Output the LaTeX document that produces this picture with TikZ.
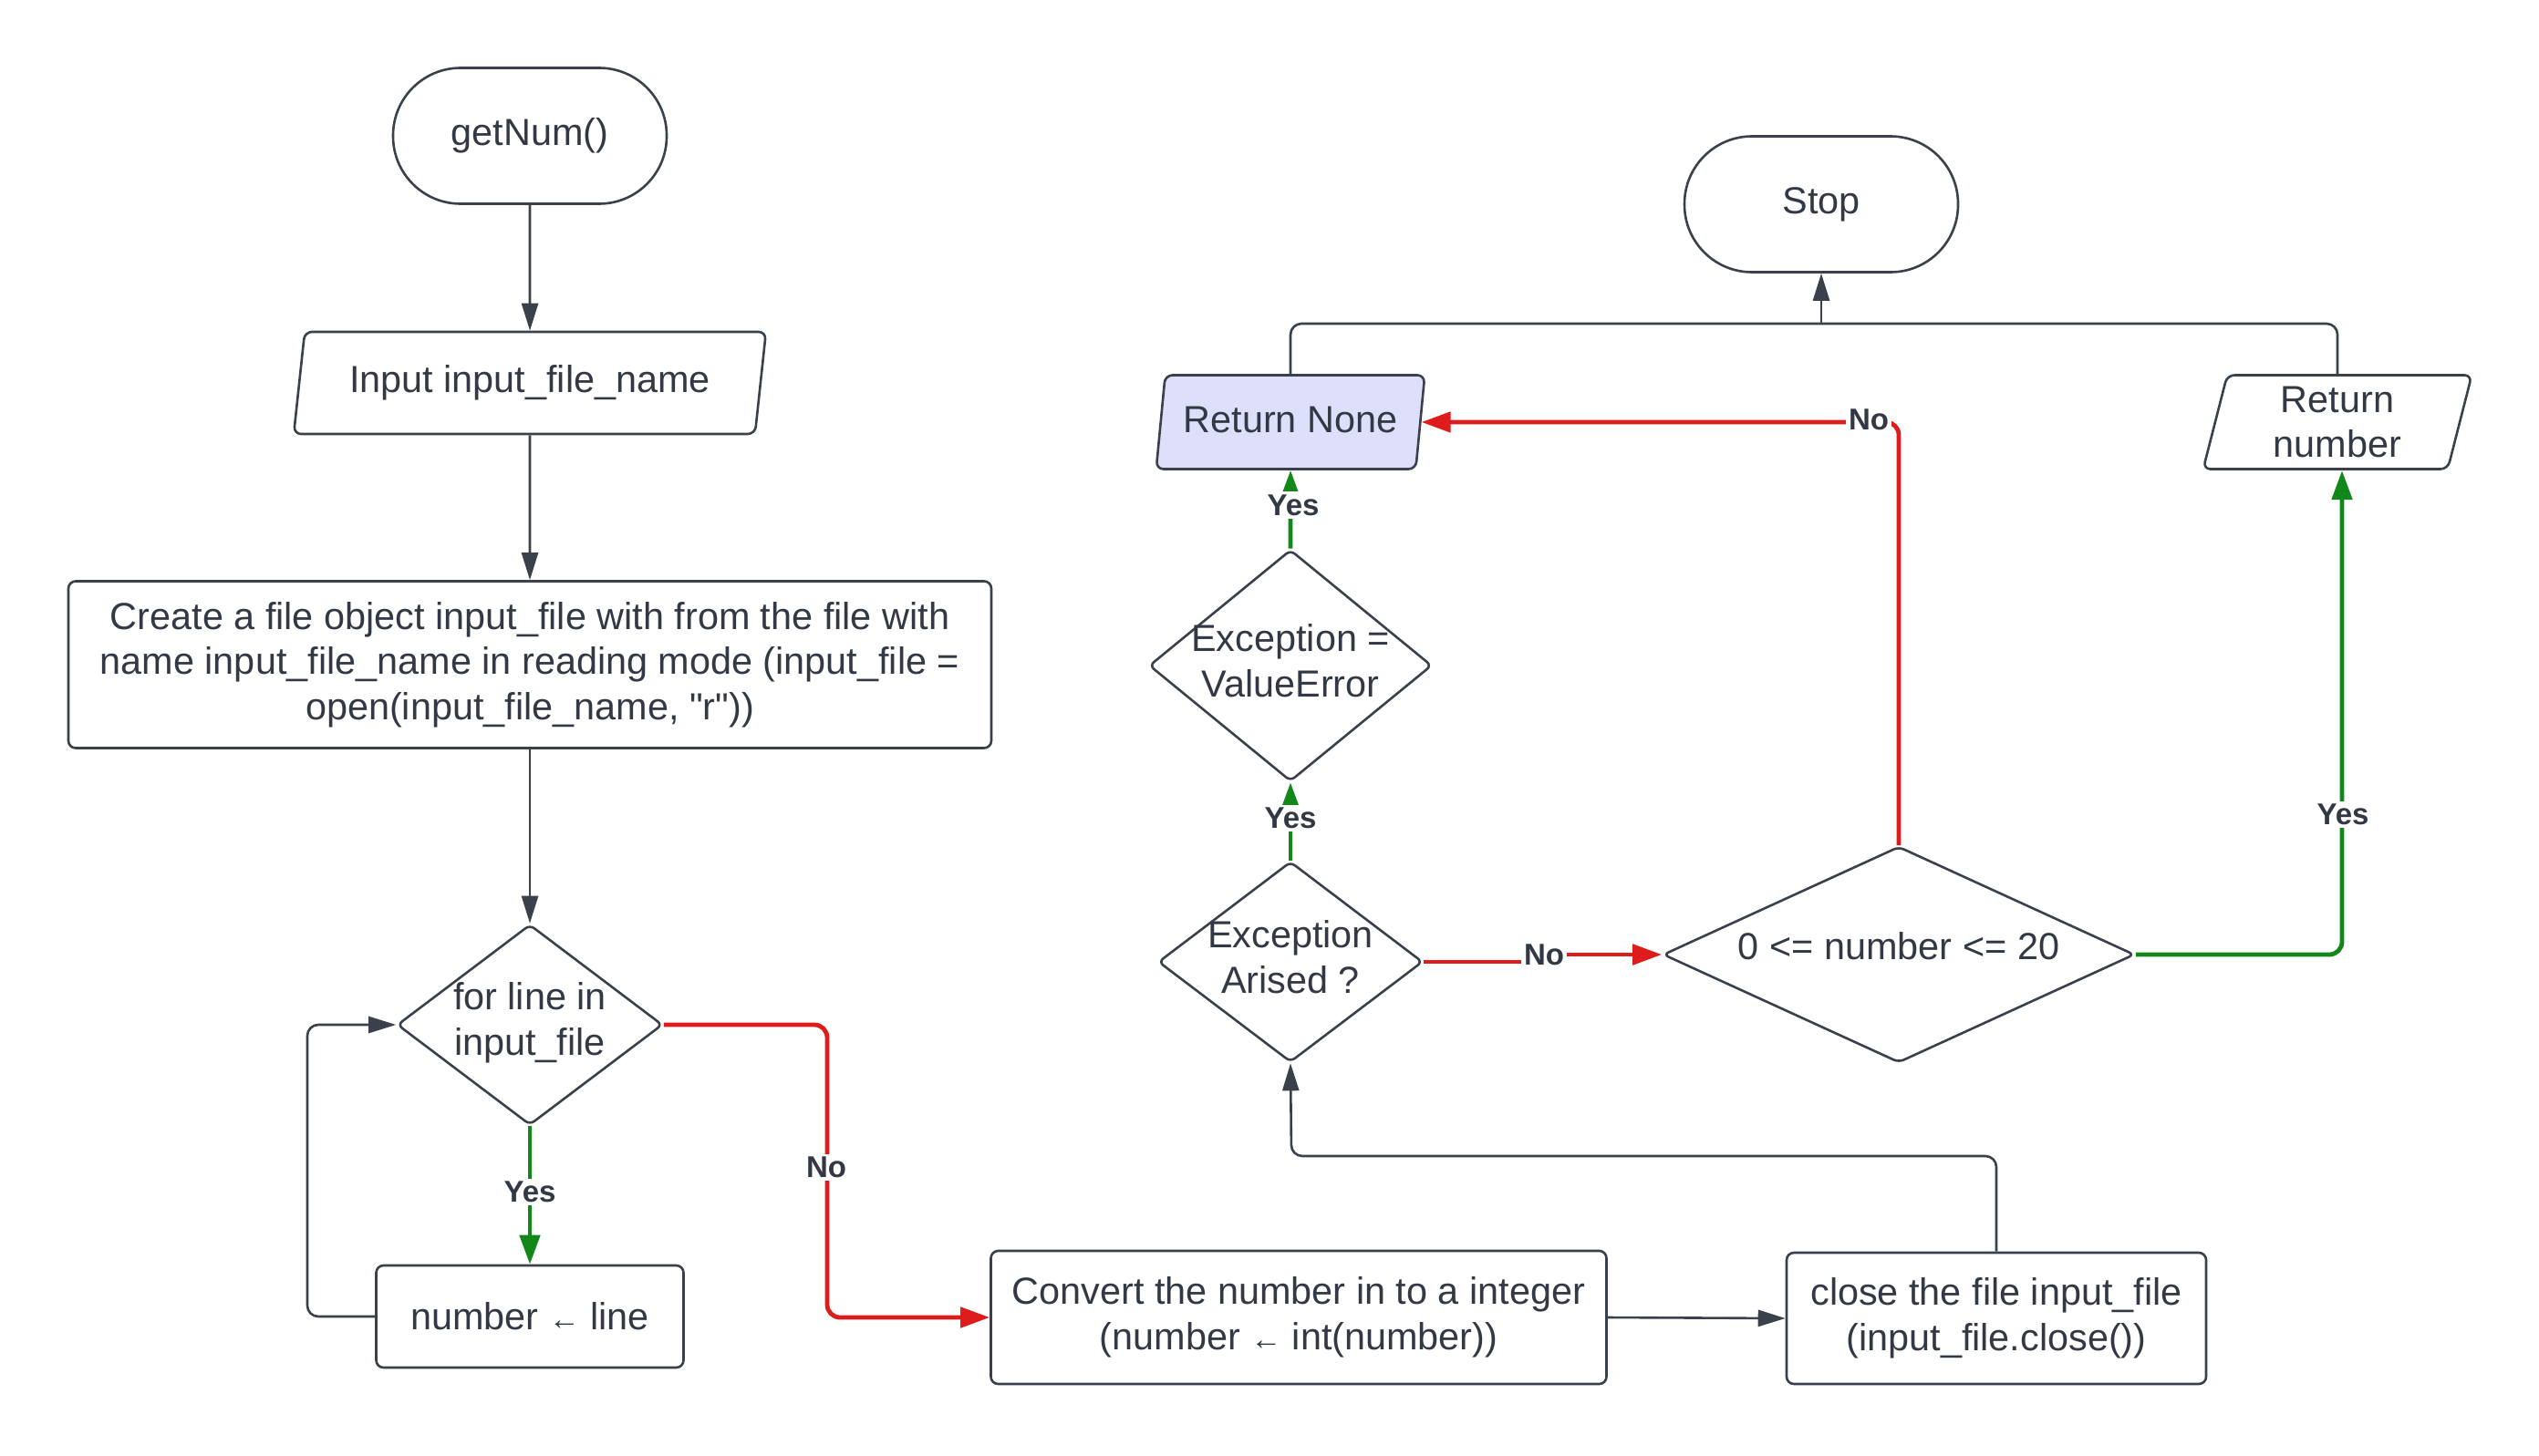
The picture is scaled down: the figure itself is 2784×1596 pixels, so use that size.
\documentclass[tikz,border=0pt]{standalone}
\usepackage{fontspec}
\setmainfont{Liberation Sans}[Ligatures=TeXOff]
\usetikzlibrary{shapes.geometric,arrows.meta}
\definecolor{linec}{RGB}{58,65,74}
\definecolor{textc}{RGB}{51,57,68}
\definecolor{redc}{RGB}{222,28,28}
\definecolor{greenc}{RGB}{18,136,26}
\definecolor{lav}{RGB}{222,223,250}
\tikzset{
  txt/.style={font=\fontsize{20.7pt}{24.85pt}\selectfont, text=textc},
  box/.style={draw=linec, line width=1.3pt, rectangle, rounded corners=4pt, txt, align=center, inner sep=0pt},
  term/.style={draw=linec, line width=1.3pt, rectangle, rounded corners=37pt, txt, align=center, minimum width=150pt, minimum height=74.5pt},
  para/.style={draw=linec, line width=1.3pt, trapezium, trapezium left angle=76, trapezium right angle=104, trapezium stretches=true, rounded corners=4pt, txt, align=center, inner sep=0pt},
  dia/.style={draw=linec, line width=1.3pt, diamond, inner sep=0pt, rounded corners=3pt},
  blk/.style={draw=linec, line width=1.3pt, rounded corners=6pt, -{Triangle[length=15pt,width=9pt]}},
  plain/.style={draw=linec, line width=1.3pt, rounded corners=6pt},
  rd/.style={draw=redc, line width=2.4pt, rounded corners=7pt, -{Triangle[length=16pt,width=11pt]}},
  gr/.style={draw=greenc, line width=2.4pt, rounded corners=7pt, -{Triangle[length=16pt,width=11pt]}},
  lbl/.style={font=\fontsize{16.5pt}{17pt}\selectfont\bfseries, text=textc, fill=white, inner sep=1.5pt}
}
\newfontfamily\arrowfont{Liberation Sans}
\newcommand{\smallarr}{{\arrowfont\fontsize{17pt}{17pt}\selectfont ←}}
\begin{document}
\begin{tikzpicture}[x=0.5pt,y=-0.5pt]
\useasboundingbox (0,0) rectangle (2784,1596);
% nodes
\node[term] (getnum) at (581,149) {getNum()};
\node[para, minimum width=259.5pt, minimum height=56pt] (input) at (581,420) {Input input\_file\_name};
\node[box, minimum width=506pt, minimum height=91.5pt] (create) at (581,729) {Create a file object input\_file with from the file with\\name input\_file\_name in reading mode (input\_file =\\open(input\_file\_name, "r"))};
\node[dia, minimum width=145.5pt, minimum height=110pt, label={[txt,align=center,yshift=1pt]center:for line in\\input\_file}] (forline) at (581,1124) {};
\node[box, minimum width=168.5pt, minimum height=56pt] (numline) at (581,1444) {number \smallarr\ line};
\node[box, minimum width=337.5pt, minimum height=73pt] (convert) at (1424,1445) {Convert the number in to a integer\\(number \smallarr\ int(number))};
\node[box, minimum width=230pt, minimum height=72pt] (close) at (2189,1446) {close the file input\_file\\(input\_file.close())};
\node[dia, minimum width=145pt, minimum height=110pt, label={[txt,align=center,yshift=2.7pt]center:Exception\\Arised ?}] (ea) at (1415,1055) {};
\node[dia, minimum width=155pt, minimum height=127pt, label={[txt,align=center,yshift=2.7pt]center:Exception =\\ValueError}] (ve) at (1415,730) {};
\node[para, fill=lav, minimum width=147.5pt, minimum height=51.5pt] (rnone) at (1415,463) {\raisebox{2.7pt}{Return None}};
\node[dia, minimum width=258.5pt, minimum height=118.5pt, label={[txt,yshift=4.5pt]center:0 <= number <= 20}] (range) at (2082,1047) {};
\node[para, minimum width=147.5pt, minimum height=51.5pt] (rnum) at (2563,463) {\raisebox{-1.8pt}{\parbox{90pt}{\centering Return\\number}}};
\node[term] (stop) at (1997,224) {Stop};
% helper coordinates
\coordinate (lp) at (337,1124);
\coordinate (nc) at (907,1124);
\coordinate (k) at (1416,1268);
\coordinate (j1) at (1693,1055);
\coordinate (j2) at (1693,1047);
\coordinate (gy) at (2568,1047);
\coordinate (gt) at (2568,516);
\coordinate (join) at (1997,355);
% connectors
\draw[blk] (getnum.south) -- (input.north);
\draw[blk] (input.south) -- (create.north);
\draw[blk] (create.south) -- (forline.north);
\draw[gr] (forline.south) -- (numline.north);
\draw[blk] (numline.west) -| (lp) -- (forline.west);
\draw[rd] (forline.east) -- (nc) |- (convert.west);
\draw[blk] (convert.east) -- (close.west);
\draw[blk] (close.north) |- (k) -- (ea.south);
\draw[gr] (ea.north) -- (ve.south);
\draw[gr] (ve.north) -- (rnone.south);
\draw[rd, rounded corners=0pt] (ea.east) -- (j1) -- (j2) -- (range.west);
\draw[rd] (range.north) |- (rnone.east);
\draw[gr] (range.east) -- (gy) -- (gt);
\draw[plain] (rnone.north) |- (join);
\draw[plain] (rnum.north) |- (join);
\draw[blk, rounded corners=0pt] (join) -- (stop.south);
% labels
\node[lbl] (l1) at (581,1307) {Yes};
\node[lbl] (l2) at (906,1280) {No};
\node[lbl] (l3) at (1415,897) {Yes};
\node[lbl] (l4) at (1418,554) {Yes};
\node[lbl] (l5) at (1693,1047) {No};
\node[lbl] (l6) at (2049,460) {No};
\node[lbl] (l7) at (2569,893) {Yes};
\end{tikzpicture}
\end{document}
